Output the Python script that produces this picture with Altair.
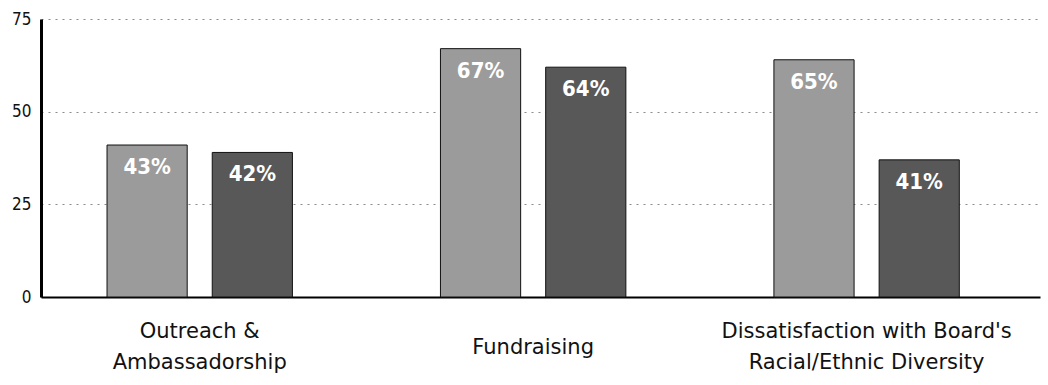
import altair as alt
import pandas as pd

categories = [
    "Outreach &\nAmbassadorship",
    "Fundraising",
    "Dissatisfaction with Board's\nRacial/Ethnic Diversity",
]
series = ["Series A", "Series B"]
bar_a = [41, 67, 64]
bar_b = [39, 62, 37]
labels_a = ["43%", "67%", "65%"]
labels_b = ["42%", "64%", "41%"]
y_ticks = [0, 25, 50, 75]
colors = ["#9b9b9b", "#585858"]

rows = []
for i, c in enumerate(categories):
    rows.append({"category": c, "series": series[0], "value": bar_a[i], "label": labels_a[i]})
    rows.append({"category": c, "series": series[1], "value": bar_b[i], "label": labels_b[i]})
df = pd.DataFrame(rows)

FONT = "DejaVu Sans Condensed"

x_enc = alt.X(
    "category:N",
    sort=categories,
    scale=alt.Scale(paddingInner=0.444, paddingOuter=0.22, align=0.45),
    axis=alt.Axis(
        title=None,
        labelAngle=0,
        labelExpr="split(datum.label, '\\n')",
        labelFont="DejaVu Sans",
        labelFontSize=21,
        labelColor="#111111",
        labelLineHeight=31,
        labelBaseline={
            "condition": {"test": "indexof(datum.label, '\\n') < 0", "value": "line-top"},
            "value": "middle",
        },
        labelPadding=34,
        labelLimit=0,
        ticks=False,
        tickSize=0,
        domainColor="#000000",
        domainWidth=2,
        grid=False,
    ),
)
xo_enc = alt.XOffset(
    "series:N",
    sort=series,
    scale=alt.Scale(paddingInner=0.238, paddingOuter=0),
)
y_enc = alt.Y(
    "value:Q",
    scale=alt.Scale(domain=[0, 75], nice=False),
    axis=alt.Axis(
        title=None,
        values=y_ticks,
        labelFont=FONT,
        labelFontSize=17,
        labelColor="#111111",
        labelPadding=10,
        ticks=False,
        tickSize=0,
        domainColor="#000000",
        domainWidth=3,
        grid=True,
        gridColor="#8a8a8a",
        gridDash=[2, 5],
        gridWidth=1,
    ),
)

bars = alt.Chart(df).mark_bar(stroke="#111111", strokeWidth=1).encode(
    x=x_enc,
    xOffset=xo_enc,
    y=y_enc,
    color=alt.Color("series:N", scale=alt.Scale(domain=series, range=colors), legend=None),
)

texts = alt.Chart(df).mark_text(
    font=FONT, fontSize=22, fontWeight="bold", color="white", baseline="middle", dy=22
).encode(
    x=alt.X("category:N", sort=categories),
    xOffset=alt.XOffset("series:N", sort=series),
    y=alt.Y("value:Q"),
    text="label:N",
)

chart = (
    alt.layer(bars, texts)
    .properties(
        width=999,
        height=278,
        autosize=alt.AutoSizeParams(type="none"),
        padding={"left": 41, "top": 19, "right": 8, "bottom": 88},
        background="white",
    )
    .configure_view(stroke=None)
)

chart.save("out.html", embed_options={"renderer": "svg", "actions": False})
